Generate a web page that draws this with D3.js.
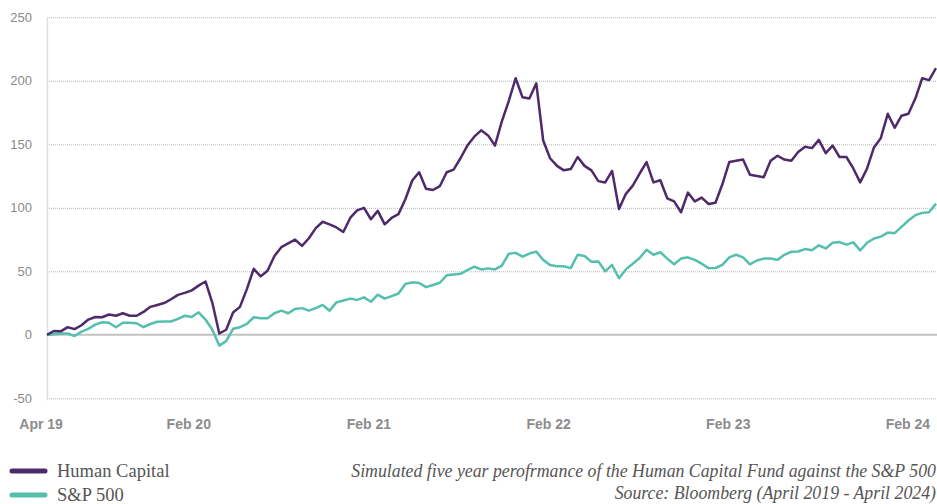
<!DOCTYPE html>
<html>
<head>
<meta charset="utf-8">
<script src="https://cdn.jsdelivr.net/npm/d3@7"></script>
<style>
  body { margin: 0; background: #fff; }
  svg { display: block; }
</style>
</head>
<body>
<svg id="chart" width="937" height="504"></svg>
<script>
// fortnightly readings, starting 19 Apr 2019
var startDate = new Date(2019, 3, 19);
var endDate = new Date(2024, 2, 29);

var humanCapital = [
  0, 3, 2.7, 6, 4.5, 7.5, 12, 14, 13.8, 16,
  15, 17, 15, 15, 18, 22, 23.5, 25, 28, 31.4,
  33, 35, 38.7, 42, 25, 1, 4, 17.5, 22, 36,
  52, 46, 50.5, 62, 69, 72, 75, 70, 76, 84,
  89, 87, 84.5, 81, 92, 98, 100, 91, 97.6, 87,
  92, 95, 106.7, 121.5, 128, 115, 114, 117, 128, 130,
  139, 149, 156, 161, 157, 149, 168, 184, 202, 187,
  186, 198, 153, 139, 133, 129.5, 130.5, 140, 133, 129.5,
  121, 120, 129, 99, 111, 117.5, 127, 136, 120, 121.7,
  107.5, 105, 96.5, 112, 105, 108, 103, 104, 118.5, 136,
  137, 138, 126, 125, 124, 137, 141, 138, 137, 144,
  148, 147, 153.5, 143, 149, 140, 140, 131, 120, 131,
  147.5, 155, 174, 163, 172.5, 174, 186, 202, 200.5, 210
];

var sp500 = [
  0, 0.5, 1, 1, -1, 2.5, 4.7, 8, 9.9, 9.5,
  6, 9.5, 9.5, 9.1, 6, 8.5, 10.3, 10.5, 10.5, 12.5,
  15, 14, 17.7, 12, 4, -8.5, -5, 4.7, 6, 8.6,
  13.8, 13, 13, 17, 19, 17, 20.4, 21, 19, 21,
  23.5, 19, 25.5, 27, 28.5, 27.5, 29.5, 26, 31.6, 28.5,
  30.5, 32.5, 40, 41.3, 40.8, 37.5, 39.2, 41, 46.8, 47.5,
  48, 51, 53.6, 51.5, 52.3, 51.5, 54.5, 63.8, 64.5, 61.5,
  64, 65.5, 59, 55, 54, 54, 52.5, 63, 62, 57.5,
  57.8, 50, 55, 44.5, 51.5, 56, 60.5, 67, 63, 65,
  60, 55.5, 60, 61, 59, 56, 52.5, 52.6, 55, 61,
  63, 61, 55.5, 58.5, 60, 60, 59, 63, 65.4, 65.6,
  67.5, 66.5, 70.5, 68, 72.5, 73, 71, 72.8, 66.5, 72.5,
  75.8, 77.3, 80.5, 80, 85, 90, 94.2, 96, 96.5, 103.3
];

var yTicks = [-50, 0, 50, 100, 150, 200, 250];
var xTickLabels = ["Apr 19", "Feb 20", "Feb 21", "Feb 22", "Feb 23", "Feb 24"];
var xTickDates = [new Date(2019, 3, 7), new Date(2020, 1, 1), new Date(2021, 1, 1),
                  new Date(2022, 1, 1), new Date(2023, 1, 1), new Date(2024, 1, 1)];

var seriesNames = ["Human Capital", "S&P 500"];
var seriesColors = ["#4e2a6c", "#55bfae"];
var captionLines = [
  "Simulated five year perofrmance of the Human Capital Fund against the S&P 500",
  "Source: Bloomberg (April 2019 - April 2024)"
];

var dates = humanCapital.map(function(d, i) {
  return d3.timeDay.offset(startDate, i * 14);
});

var svg = d3.select("#chart");

var x = d3.scaleTime().domain([startDate, endDate]).range([47, 936]);
var y = d3.scaleLinear().domain([-50, 250]).range([398.3, 17.3]);

// grid lines
svg.append("g")
  .selectAll("line")
  .data(yTicks.filter(function(d) { return d !== 0; }))
  .enter()
  .append("line")
  .attr("x1", 47)
  .attr("x2", 937)
  .attr("y1", function(d) { return y(d) + 0.5; })
  .attr("y2", function(d) { return y(d) + 0.5; })
  .attr("stroke", "#b5b5b5")
  .attr("stroke-width", 1)
  .attr("stroke-dasharray", "1,1");

// left axis line
svg.append("line")
  .attr("x1", 47.5).attr("x2", 47.5)
  .attr("y1", y(250)).attr("y2", y(-50) + 2)
  .attr("stroke", "#dedede")
  .attr("stroke-width", 1.5);

// zero line
svg.append("line")
  .attr("x1", 47).attr("x2", 937)
  .attr("y1", y(0)).attr("y2", y(0))
  .attr("stroke", "#c2c2c2")
  .attr("stroke-width", 2);

// y labels
svg.append("g")
  .selectAll("text")
  .data(yTicks)
  .enter()
  .append("text")
  .attr("x", 32)
  .attr("y", function(d) { return y(d); })
  .attr("dy", "0.35em")
  .attr("text-anchor", "end")
  .attr("font-family", "'Liberation Sans', Arial, sans-serif")
  .attr("font-size", 13)
  .attr("fill", "#8a8a8a")
  .text(function(d) { return d; });

// x labels
svg.append("g")
  .selectAll("text")
  .data(xTickLabels)
  .enter()
  .append("text")
  .attr("x", function(d, i) { return x(xTickDates[i]); })
  .attr("y", 429)
  .attr("text-anchor", "middle")
  .attr("font-family", "'Liberation Sans', Arial, sans-serif")
  .attr("font-weight", "bold")
  .attr("font-size", 14)
  .attr("fill", "#8c8c8c")
  .text(function(d) { return d; });

var line = d3.line()
  .x(function(d, i) { return x(dates[i]); })
  .y(function(d) { return y(d); })
  .curve(d3.curveLinear);

svg.append("path")
  .datum(sp500)
  .attr("d", line)
  .attr("fill", "none")
  .attr("stroke", seriesColors[1])
  .attr("stroke-width", 2.5)
  .attr("stroke-linejoin", "round");

svg.append("path")
  .datum(humanCapital)
  .attr("d", line)
  .attr("fill", "none")
  .attr("stroke", seriesColors[0])
  .attr("stroke-width", 2.5)
  .attr("stroke-linejoin", "round");

// legend
var legend = svg.append("g")
  .selectAll("g")
  .data(seriesNames)
  .enter()
  .append("g")
  .attr("transform", function(d, i) { return "translate(0," + (471 + i * 24) + ")"; });

legend.append("line")
  .attr("x1", 12).attr("x2", 45)
  .attr("y1", 0).attr("y2", 0)
  .attr("stroke", function(d, i) { return seriesColors[i]; })
  .attr("stroke-width", 5)
  .attr("stroke-linecap", "round");

legend.append("text")
  .attr("x", 57)
  .attr("y", 6)
  .attr("font-family", "'Liberation Serif', 'Times New Roman', serif")
  .attr("font-size", 18.5)
  .attr("fill", "#555")
  .text(function(d) { return d; });

// caption
svg.append("g")
  .selectAll("text")
  .data(captionLines)
  .enter()
  .append("text")
  .attr("x", 936)
  .attr("y", function(d, i) { return 477 + i * 22; })
  .attr("text-anchor", "end")
  .attr("font-family", "'Liberation Serif', 'Times New Roman', serif")
  .attr("font-style", "italic")
  .attr("font-size", 17.8)
  .attr("fill", "#555")
  .text(function(d) { return d; });
</script>
</body>
</html>
